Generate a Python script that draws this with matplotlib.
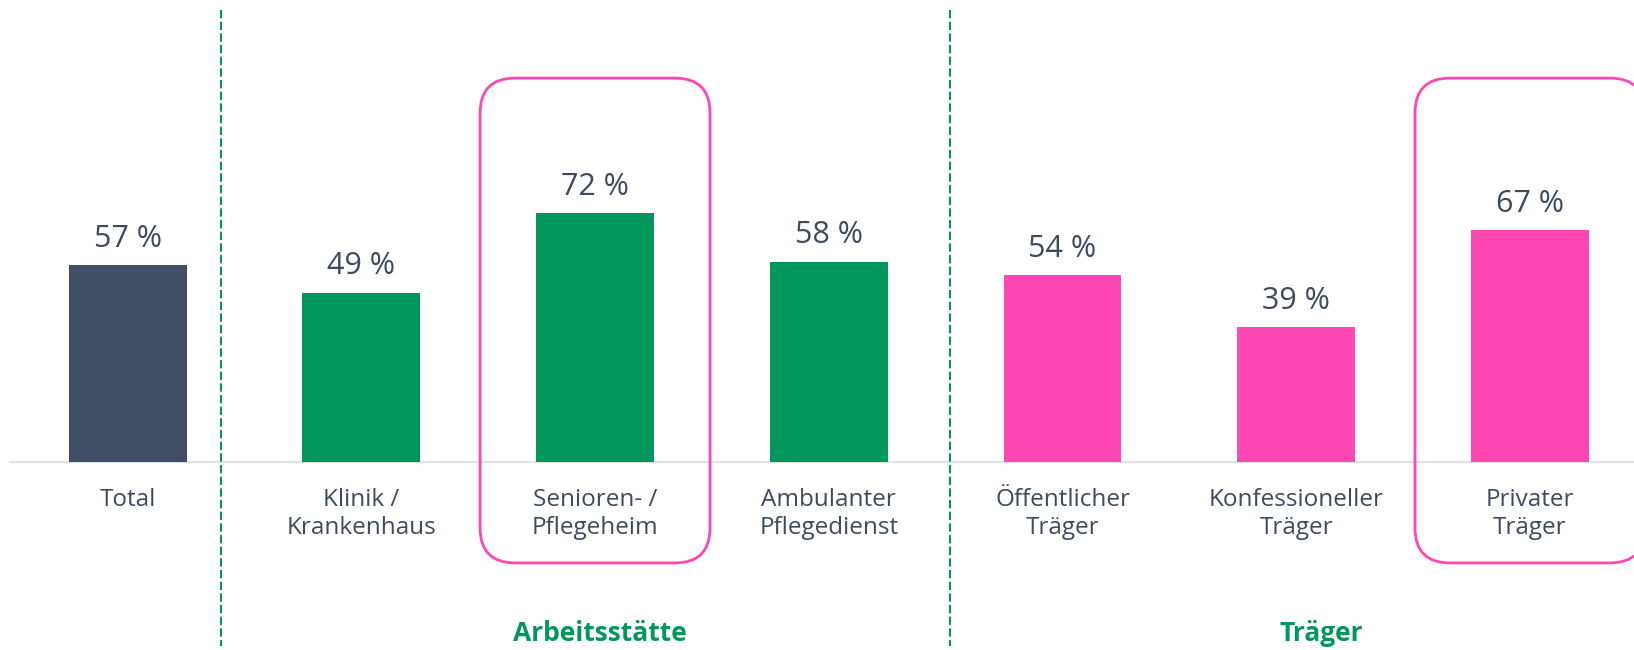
import numpy as np
import matplotlib.pyplot as plt
from matplotlib.patches import FancyBboxPatch

plt.rcParams['font.family'] = ['Open Sans', 'DejaVu Sans']

# data
categories = ['Total', 'Klinik /\nKrankenhaus', 'Senioren- /\nPflegeheim',
              'Ambulanter\nPflegedienst', 'Öffentlicher\nTräger',
              'Konfessioneller\nTräger', 'Privater\nTräger']
values = [57, 49, 72, 58, 54, 39, 67]
groups = ['total', 'arbeit', 'arbeit', 'arbeit', 'traeger', 'traeger', 'traeger']
group_labels = ['Arbeitsstätte', 'Träger']
highlighted = ['Senioren- /\nPflegeheim', 'Privater\nTräger']

group_colors = {'total': '#404f65', 'arbeit': '#00965c', 'traeger': '#ff47b4'}
text_col = '#3e4a5e'
green = '#00965c'
pink = '#ff47b4'

fig = plt.figure(figsize=(16.34, 6.5), dpi=100)
ax = fig.add_axes([0, 0, 1, 1])
ax.set_xlim(-0.546, 6.445)
ax.set_ylim(-54.4, 133.7)
ax.axis('off')

x = np.arange(len(values))
cols = [group_colors[g] for g in groups]
ax.bar(x, values, width=0.504, color=cols, zorder=2)

# baseline
ax.axhline(0, xmin=0.006, xmax=1, color='#dde2ea', lw=1.5, zorder=1)

for xi, v in zip(x, values):
    ax.text(xi, v + 7.6, f'{v} %', ha='center', va='center',
            fontsize=22, color=text_col)

for xi, c in zip(x, categories):
    ax.text(xi, -7.4, c, ha='center', va='top', fontsize=17.5,
            color=text_col, linespacing=1.25)

# group separators
for xs in [0.4, 3.52]:
    ax.plot([xs, xs], [130.8, -53.3], ls=(0, (4, 1.6)), color=green, lw=1.5)

# group titles
ax.text(2.02, -49.5, group_labels[0], ha='center', va='center',
        fontsize=19, fontweight='bold', color=green)
ax.text(5.106, -49.5, group_labels[1], ha='center', va='center',
        fontsize=19, fontweight='bold', color=green)

# highlight boxes (aspect: data-y per pixel / data-x per pixel)
# near-invisible face avoids agg's path clipping artefact at the right edge
asp = (1 / 3.456) / (1 / 233.7)
for name in highlighted:
    i = categories.index(name)
    box = FancyBboxPatch((i - 0.492, -29.2), 0.984, 140.3,
                         boxstyle='round,pad=0,rounding_size=0.15',
                         mutation_aspect=asp,
                         fc=(1, 1, 1, 0.002), ec=pink, lw=2, zorder=1.5)
    ax.add_patch(box)

plt.savefig('out.png', dpi=100)
